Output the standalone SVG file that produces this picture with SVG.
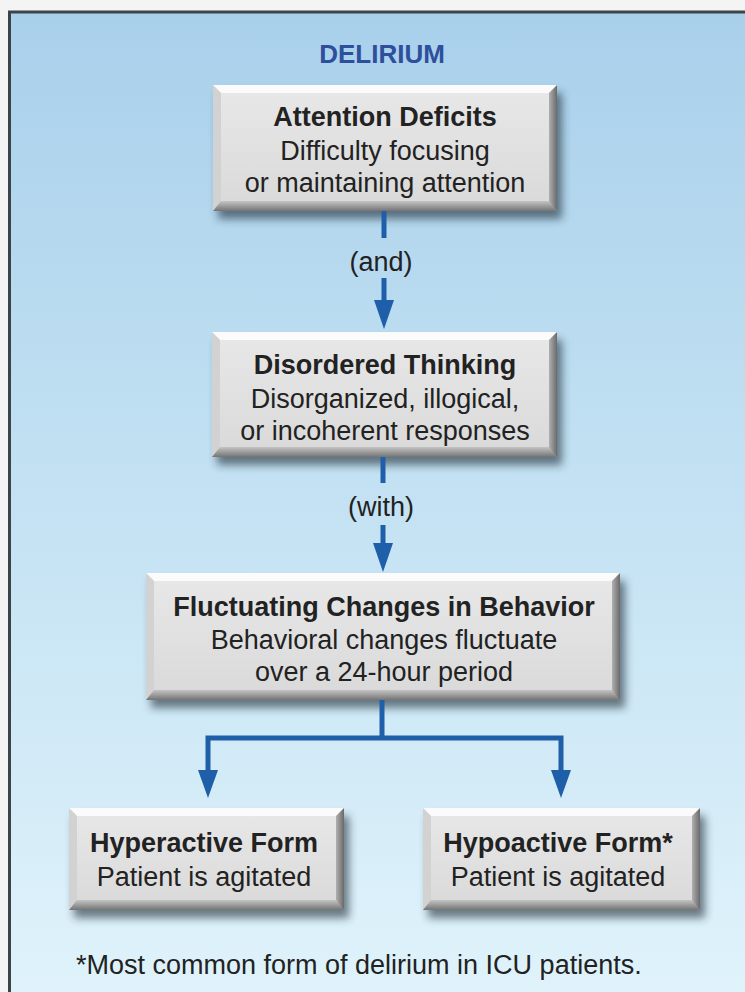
<svg xmlns="http://www.w3.org/2000/svg" width="745" height="992" viewBox="0 0 745 992">
  <defs>
    <linearGradient id="bg" x1="0" y1="0" x2="0" y2="1">
      <stop offset="0" stop-color="#a9d0eb"/>
      <stop offset="0.5" stop-color="#c4e2f3"/>
      <stop offset="1" stop-color="#e0f3fb"/>
    </linearGradient>
    <linearGradient id="face" x1="0" y1="0" x2="0" y2="1">
      <stop offset="0" stop-color="#e8e8e8"/>
      <stop offset="1" stop-color="#d9d9d9"/>
    </linearGradient>
    <linearGradient id="bot" x1="0" y1="0" x2="0" y2="1">
      <stop offset="0" stop-color="#c4c4c4"/>
      <stop offset="1" stop-color="#747474"/>
    </linearGradient>
    <linearGradient id="rgt" x1="0" y1="0" x2="1" y2="0">
      <stop offset="0" stop-color="#b0b0b0"/>
      <stop offset="1" stop-color="#6a6a6a"/>
    </linearGradient>
    <filter id="blur" x="-20%" y="-20%" width="140%" height="160%">
      <feGaussianBlur stdDeviation="4"/>
    </filter>
  </defs>
  <style>
    .shadow { fill: #1a2a35; opacity: 0.6; filter: url(#blur); }
    .face { fill: url(#face); }
    .top { fill: #fbfbfb; }
    .left { fill: #d2d2d2; }
    .right { fill: url(#rgt); }
    .bottom { fill: url(#bot); }
    .t { font-family: "Liberation Sans", Arial, sans-serif; font-size: 27px; fill: #222; text-anchor: middle; }
    .b { font-weight: bold; }
    .title { font-family: "Liberation Sans", Arial, sans-serif; font-size: 26px; font-weight: bold; fill: #2e4f9c; text-anchor: middle; }
    .line { stroke: #1f5ea8; stroke-width: 5; fill: none; }
    .head { fill: #1f5ea8; }
  </style>

  <rect x="0" y="0" width="745" height="992" fill="#f4f4f4"/>
  <rect x="10" y="12" width="740" height="990" fill="url(#bg)"/>
  <path d="M9.5 1000 V12 H750" fill="none" stroke="#3a4449" stroke-width="3"/>

  <text class="title" x="382" y="63">DELIRIUM</text>

  <g id="node-attention">
    <rect class="shadow" x="218" y="93" width="344" height="126"/>
    <rect class="face" x="213" y="85" width="344" height="126"/>
    <polygon class="top" points="213,85 557,85 549,93 221,93"/>
    <polygon class="left" points="213,85 221,93 221,203 213,211"/>
    <polygon class="right" points="557,85 557,211 549,203 549,93"/>
    <polygon class="bottom" points="213,211 557,211 549,201 221,201"/>
    <text class="t b" x="385" y="126">Attention Deficits</text>
    <text class="t" x="385" y="160">Difficulty focusing</text>
    <text class="t" x="385" y="192">or maintaining attention</text>
  </g>

  <g id="node-thinking">
    <rect class="shadow" x="217" y="340" width="345" height="125"/>
    <rect class="face" x="212" y="332" width="345" height="125"/>
    <polygon class="top" points="212,332 557,332 549,340 220,340"/>
    <polygon class="left" points="212,332 220,340 220,449 212,457"/>
    <polygon class="right" points="557,332 557,457 549,449 549,340"/>
    <polygon class="bottom" points="212,457 557,457 549,447 220,447"/>
    <text class="t b" x="385" y="374">Disordered Thinking</text>
    <text class="t" x="385" y="408">Disorganized, illogical,</text>
    <text class="t" x="385" y="440">or incoherent responses</text>
  </g>

  <g id="node-fluctuating">
    <rect class="shadow" x="151" y="581" width="474" height="127"/>
    <rect class="face" x="146" y="573" width="474" height="127"/>
    <polygon class="top" points="146,573 620,573 612,581 154,581"/>
    <polygon class="left" points="146,573 154,581 154,692 146,700"/>
    <polygon class="right" points="620,573 620,700 612,692 612,581"/>
    <polygon class="bottom" points="146,700 620,700 612,690 154,690"/>
    <text class="t b" x="384" y="616">Fluctuating Changes in Behavior</text>
    <text class="t" x="384" y="649">Behavioral changes fluctuate</text>
    <text class="t" x="384" y="681">over a 24-hour period</text>
  </g>

  <g id="node-hyperactive">
    <rect class="shadow" x="74" y="816" width="275" height="102"/>
    <rect class="face" x="69" y="808" width="275" height="102"/>
    <polygon class="top" points="69,808 344,808 336,816 77,816"/>
    <polygon class="left" points="69,808 77,816 77,902 69,910"/>
    <polygon class="right" points="344,808 344,910 336,902 336,816"/>
    <polygon class="bottom" points="69,910 344,910 336,900 77,900"/>
    <text class="t b" x="204" y="852">Hyperactive Form</text>
    <text class="t" x="204" y="886">Patient is agitated</text>
  </g>

  <g id="node-hypoactive">
    <rect class="shadow" x="428" y="816" width="277" height="102"/>
    <rect class="face" x="423" y="808" width="277" height="102"/>
    <polygon class="top" points="423,808 700,808 692,816 431,816"/>
    <polygon class="left" points="423,808 431,816 431,902 423,910"/>
    <polygon class="right" points="700,808 700,910 692,902 692,816"/>
    <polygon class="bottom" points="423,910 700,910 692,900 431,900"/>
    <text class="t b" x="558" y="852">Hypoactive Form*</text>
    <text class="t" x="558" y="886">Patient is agitated</text>
  </g>

  <g id="connectors">
    <line class="line" x1="384" y1="211" x2="384" y2="238"/>
    <text class="t" x="381" y="271">(and)</text>
    <line class="line" x1="384" y1="278" x2="384" y2="302"/>
    <polygon class="head" points="374,300 394,300 384,329"/>

    <line class="line" x1="383" y1="457" x2="383" y2="483"/>
    <text class="t" x="381" y="516">(with)</text>
    <line class="line" x1="383" y1="525" x2="383" y2="545"/>
    <polygon class="head" points="373,543 393,543 383,572"/>

    <polyline class="line" points="382,700 382,738"/>
    <polyline class="line" points="208,772 208,738 561,738 561,772"/>
    <polygon class="head" points="198,770 218,770 208,798"/>
    <polygon class="head" points="551,770 571,770 561,798"/>
  </g>

  <text class="t" x="76" y="974" style="text-anchor:start">*Most common form of delirium in ICU patients.</text>
</svg>
